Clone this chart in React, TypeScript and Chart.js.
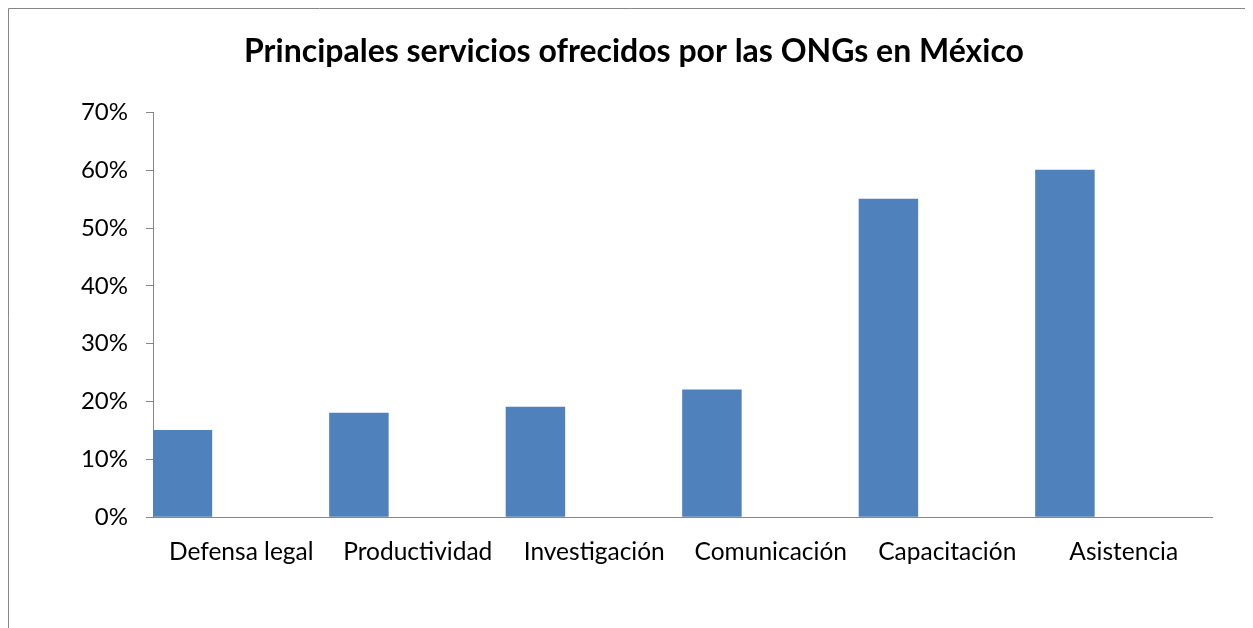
import React, { useEffect, useRef } from "react";
import { Chart, registerables } from "chart.js";

Chart.register(...registerables);

const categories = [
  "Defensa legal",
  "Productividad",
  "Investigación",
  "Comunicación",
  "Capacitación",
  "Asistencia",
];
const values = [0.15, 0.18, 0.19, 0.22, 0.55, 0.6];
const emptySeriesA: (number | null)[] = [];
const emptySeriesB: (number | null)[] = [];
const titleText = "Principales servicios ofrecidos por las ONGs en México";
const yMin = 0;
const yMax = 0.7;
const yStep = 0.1;

const W = 1245;
const H = 620;

const borderPlugin = {
  id: "outerBorder",
  afterDraw(chart: any) {
    const ctx = chart.ctx;
    ctx.save();
    ctx.strokeStyle = "#868686";
    ctx.lineWidth = 1;
    ctx.beginPath();
    ctx.moveTo(0.5, H);
    ctx.lineTo(0.5, 0.5);
    ctx.lineTo(W, 0.5);
    ctx.stroke();
    ctx.restore();
  },
};

export default function App() {
  const ref = useRef<HTMLCanvasElement>(null);
  useEffect(() => {
    if (!ref.current) return;
    const chart = new Chart(ref.current, {
      type: "bar",
      data: {
        labels: categories,
        datasets: [
          {
            label: "Servicios",
            data: values,
            backgroundColor: "#4F81BD",
            borderWidth: 0,
            categoryPercentage: 1,
            barPercentage: 1,
          },
          {
            label: "",
            data: emptySeriesA,
            backgroundColor: "#C0504D",
            categoryPercentage: 1,
            barPercentage: 1,
          },
          {
            label: "",
            data: emptySeriesB,
            backgroundColor: "#9BBB59",
            categoryPercentage: 1,
            barPercentage: 1,
          },
        ],
      },
      options: {
        responsive: false,
        animation: false,
        layout: { padding: { left: 48, right: 41, top: 0, bottom: 0 } },
        plugins: {
          legend: { display: false },
          tooltip: { enabled: false },
          title: {
            display: true,
            text: titleText,
            color: "#000000",
            font: { family: "Lato", size: 32, weight: "bold" },
            padding: { top: 24, bottom: 42 },
          },
        },
        scales: {
          x: {
            grid: { display: true, drawOnChartArea: false, drawTicks: false },
            border: { display: true, color: "#868686", width: 1 },
            ticks: {
              color: "#000000",
              font: { family: "Lato", size: 24.5 },
              padding: 20,
              maxRotation: 0,
              autoSkip: false,
            },
            afterFit(scale: any) {
              scale.height = 111;
            },
          },
          y: {
            min: yMin,
            max: yMax,
            grid: {
              display: true,
              drawOnChartArea: false,
              drawTicks: true,
              tickLength: 7,
              tickColor: "#868686",
            },
            border: { display: true, color: "#868686", width: 1 },
            ticks: {
              stepSize: yStep,
              color: "#000000",
              font: { family: "Lato", size: 24 },
              padding: 18,
              callback: (v: any) => Math.round(Number(v) * 100) + "%",
            },
            afterFit(scale: any) {
              scale.width = 97;
            },
          },
        },
      },
      plugins: [borderPlugin],
    });
    return () => chart.destroy();
  }, []);
  return (
    <div style={{ width: W, height: H }}>
      <canvas ref={ref} width={W} height={H} style={{ display: "block" }} />
    </div>
  );
}
